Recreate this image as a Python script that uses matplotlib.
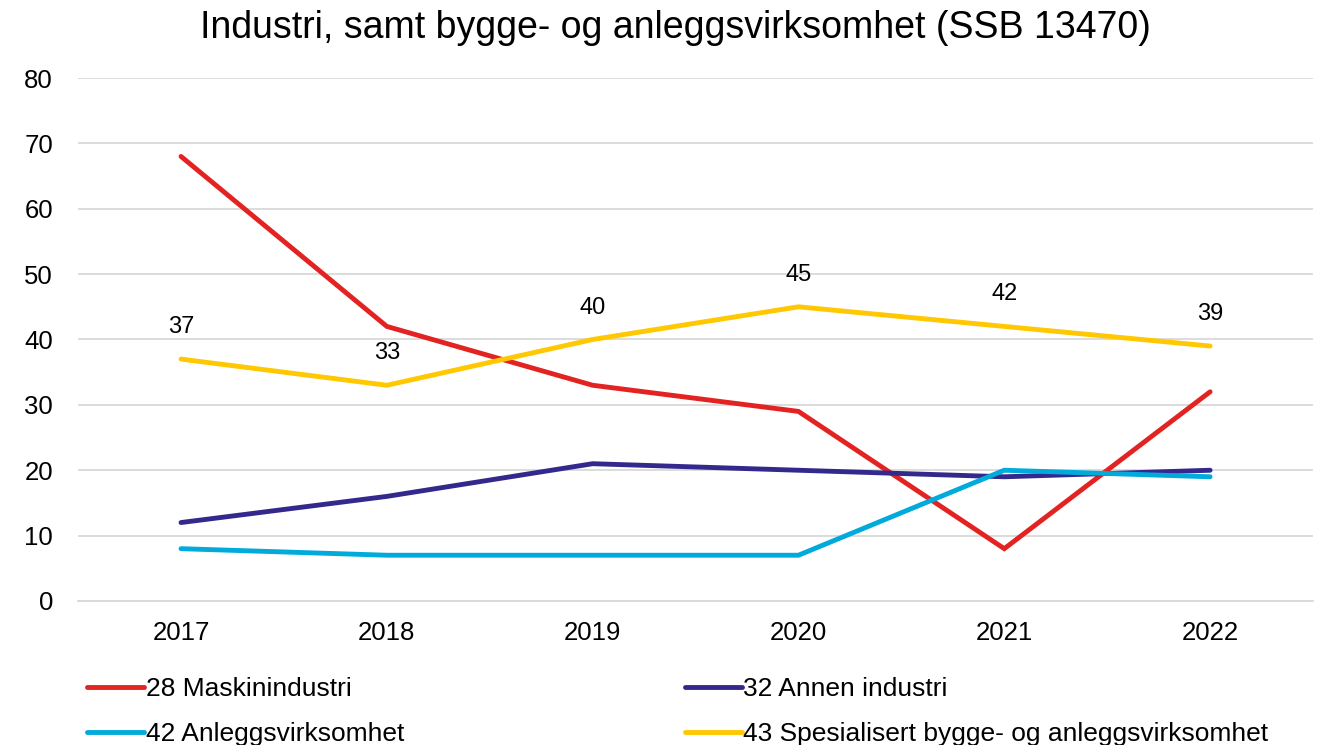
import matplotlib
matplotlib.use("Agg")
import matplotlib.pyplot as plt

plt.rcParams['font.family'] = ['Liberation Sans', 'DejaVu Sans']

years = ["2017", "2018", "2019", "2020", "2021", "2022"]
maskin = [68, 42, 33, 29, 8, 32]
annen = [12, 16, 21, 20, 19, 20]
anlegg = [8, 7, 7, 7, 20, 19]
spes = [37, 33, 40, 45, 42, 39]

names = ["28 Maskinindustri", "32 Annen industri", "42 Anleggsvirksomhet",
         "43 Spesialisert bygge- og anleggsvirksomhet"]
colors = ["#E32322", "#33298D", "#00AADB", "#FFC800"]

fig = plt.figure(figsize=(13.24, 7.45), dpi=100)
ax = fig.add_axes([0.059, 0.1933, 0.9327, 0.702])

x = list(range(len(years)))
lines = {}
for name, vals, c in zip(names, [maskin, annen, anlegg, spes], colors):
    ln, = ax.plot(x, vals, color=c, lw=3.5, solid_capstyle='round',
                  solid_joinstyle='miter', label=name)
    lines[name] = ln

for xi, v in zip(x, spes):
    ax.annotate(str(v), (xi, v), xytext=(0, 23), textcoords='offset points',
                ha='center', va='center', fontsize=17, color='#000000')

ax.set_xlim(-0.5, len(years) - 0.5)
ax.set_ylim(0, 80)
ax.set_yticks(range(0, 81, 10))
ax.set_xticks(x)
ax.set_xticklabels(years)
ax.tick_params(axis='both', length=0, labelsize=18.5, colors='#000000')
ax.tick_params(axis='x', pad=14.5)
ax.tick_params(axis='y', pad=18)
ax.grid(axis='y', color='#D9D9D9', lw=1.3)
ax.set_axisbelow(True)
for s in ['top', 'right', 'left']:
    ax.spines[s].set_visible(False)
ax.spines['bottom'].set_color('#D9D9D9')
ax.spines['bottom'].set_linewidth(1.3)

fig.suptitle("Industri, samt bygge- og anleggsvirksomhet (SSB 13470)",
             fontsize=27, x=0.51, y=0.986, va='top')

order = [names[0], names[2], names[1], names[3]]
fig.legend([lines[n] for n in order], order, ncol=2, loc='lower left',
           bbox_to_anchor=(0.066, -0.001), frameon=False, fontsize=19,
           handlelength=2.16, handletextpad=0.05, columnspacing=10.63,
           labelspacing=0.77, borderaxespad=0, borderpad=0)

fig.savefig("out.png", dpi=100)
